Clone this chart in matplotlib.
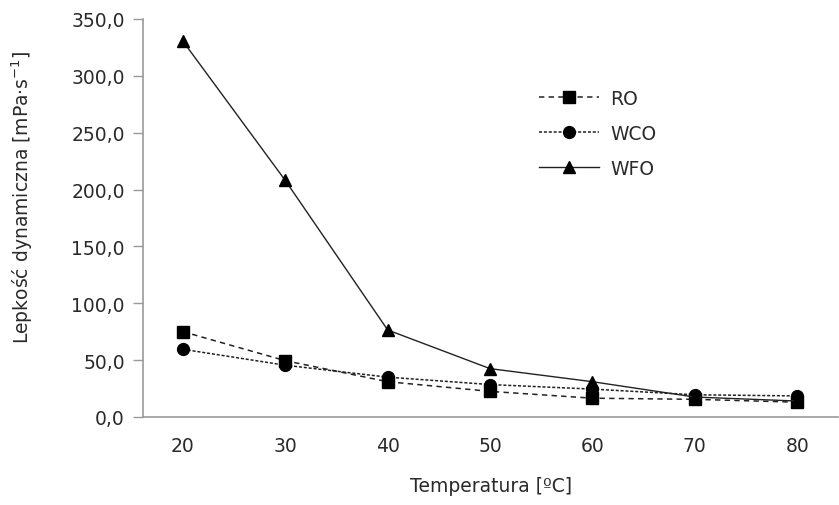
import matplotlib
matplotlib.use("Agg")
import matplotlib.pyplot as plt
from matplotlib.ticker import FuncFormatter

# dane
temperatura = [20, 30, 40, 50, 60, 70, 80]
ro = [75.0, 49.5, 31.0, 22.5, 16.5, 15.5, 13.0]
wco = [59.5, 45.5, 35.0, 28.5, 24.5, 19.5, 18.5]
wfo = [330.5, 208.0, 76.5, 42.5, 31.0, 17.5, 14.0]

y_ticks = [0, 50, 100, 150, 200, 250, 300, 350]

plt.rcParams["font.family"] = ["DejaVu Sans"]
fs = 13.5
tekst = "#2a2a2a"

fig = plt.figure(figsize=(8.39, 5.06), dpi=100)
ax = fig.add_axes([0.1704, 0.174, 0.8286, 0.7865])

kolor = "#222222"
ax.plot(temperatura, ro, linestyle=(0, (3.5, 2.8)), color=kolor, linewidth=1.1,
        marker="s", markersize=8.5, markerfacecolor="black", markeredgecolor="black", label="RO")
ax.plot(temperatura, wco, linestyle=(0, (2, 1.2)), color=kolor, linewidth=1.1,
        marker="o", markersize=8.5, markerfacecolor="black", markeredgecolor="black", label="WCO")
ax.plot(temperatura, wfo, linestyle="-", color=kolor, linewidth=1.0,
        marker="^", markersize=9, markerfacecolor="black", markeredgecolor="black", label="WFO")

ax.set_xlim(16.1, 84.0)
ax.set_ylim(0, 350)
ax.set_xticks(temperatura)
ax.set_yticks(y_ticks)
ax.yaxis.set_major_formatter(FuncFormatter(lambda v, p: f"{v:.1f}".replace(".", ",")))

for s in ["top", "right"]:
    ax.spines[s].set_visible(False)
for s in ["left", "bottom"]:
    ax.spines[s].set_color("#999999")
    ax.spines[s].set_linewidth(1.2)

ax.tick_params(axis="y", length=7, width=1.0, color="#999999", labelsize=fs, pad=6, labelcolor=tekst)
ax.tick_params(axis="x", length=0, labelsize=fs, pad=14, labelcolor=tekst)

ax.set_xlabel("Temperatura [ºC]", fontsize=fs, color=tekst, labelpad=15)
ax.set_ylabel(r"Lepkość dynamiczna [mPa·s$^{\mathregular{-1}}$]", fontsize=fs, color=tekst)
ax.yaxis.set_label_coords(-0.155, 0.555)

leg = ax.legend(loc="upper left", bbox_to_anchor=(0.545, 0.867), frameon=False, fontsize=fs,
                handlelength=3.2, labelspacing=0.85, handletextpad=0.6)
for t in leg.get_texts():
    t.set_color(tekst)

fig.savefig("out.png", dpi=100)
